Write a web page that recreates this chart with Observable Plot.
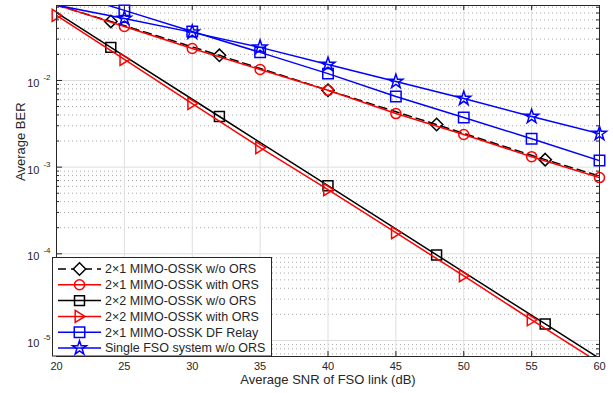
<!DOCTYPE html>
<html><head><meta charset="utf-8">
<script src="https://cdn.jsdelivr.net/npm/d3@7"></script>
<script src="https://cdn.jsdelivr.net/npm/@observablehq/plot@0.6"></script>
<style>
body{margin:0;background:#fff;}
#chart{width:613px;height:393px;}
</style>
</head><body><div id="chart"></div>
<script>
// ---- data ----
const snrA = [20, 24, 32, 40, 48, 56, 60];
const berA = [0.074, 0.048, 0.0195, 0.0077, 0.0031, 0.00122, 0.00079];
const markA = [24, 32, 40, 48, 56];

const snrB = [20, 25, 30, 35, 40, 45, 50, 55, 60];
const berB = [0.0745, 0.042, 0.0234, 0.0134, 0.0077, 0.00415, 0.00238, 0.00132, 0.000757];
const markB = [25, 30, 35, 40, 45, 50, 55, 60];

const snrC = [20, 24, 32, 40, 48, 56, 60];
const berC = [0.0605, 0.0241, 0.00384, 0.000611, 9.7e-5, 1.55e-5, 6.2e-6];
const markC = [24, 32, 40, 48, 56];

const snrD = [20, 25, 30, 35, 40, 45, 50, 55, 60];
const berD = [0.0564, 0.0175, 0.00542, 0.00168, 0.00055, 1.75e-4, 5.57e-5, 1.73e-5, 5.5e-6];
const markD = [20, 25, 30, 35, 40, 45, 50, 55];

const snrE = [20, 25, 30, 35, 40, 45, 50, 55, 60];
const berE = [0.113, 0.0644, 0.0368, 0.0211, 0.012, 0.00653, 0.00373, 0.00213, 0.00119];
const markE = [25, 30, 35, 40, 45, 50, 55, 60];

const snrF = [20, 25, 30, 35, 40, 45, 50, 55, 60];
const berF = [0.074, 0.052, 0.0359, 0.0241, 0.0153, 0.00973, 0.0062, 0.00384, 0.00244];
const markF = [25, 30, 35, 40, 45, 50, 55, 60];

const seriesNames = [
  "2\u00d71 MIMO-OSSK w/o ORS",
  "2\u00d71 MIMO-OSSK with ORS",
  "2\u00d72 MIMO-OSSK w/o ORS",
  "2\u00d72 MIMO-OSSK with ORS",
  "2\u00d71 MIMO-OSSK DF Relay",
  "Single FSO system w/o ORS"
];
const xTicks = [20, 25, 30, 35, 40, 45, 50, 55, 60];
const yDecades = [1e-5, 1e-4, 1e-3, 1e-2];
const yExponents = ["-5", "-4", "-3", "-2"];
const xLabel = "Average SNR of FSO link (dB)";
const yLabel = "Average BER";

// ---- styling ----
const yMin = 6.53e-6, yMax = 0.0733;
const triRight = {
  draw(ctx, size) {
    const r = Math.sqrt(size / Math.PI);
    ctx.moveTo(r, 0);
    ctx.lineTo(-0.8 * r, -1.1 * r);
    ctx.lineTo(-0.8 * r, 1.1 * r);
    ctx.closePath();
  }
};
const style = [
  {color: "#000", dash: "8,5", symbol: "diamond2", d3sym: d3.symbolDiamond2, r: 5.6},
  {color: "#ff0000", dash: null, symbol: "circle", d3sym: d3.symbolCircle, r: 5},
  {color: "#000", dash: null, symbol: "square", d3sym: d3.symbolSquare, r: 5.6},
  {color: "#ff0000", dash: null, symbol: triRight, d3sym: triRight, r: 5.4},
  {color: "#0000ff", dash: null, symbol: "square", d3sym: d3.symbolSquare, r: 5.9},
  {color: "#0000ff", dash: null, symbol: "star", d3sym: d3.symbolStar, r: 4.4}
];
const raw = [[snrA, berA, markA], [snrB, berB, markB], [snrC, berC, markC],
             [snrD, berD, markD], [snrE, berE, markE], [snrF, berF, markF]];
const series = raw.map(([s, b, m], i) => ({
  line: s.map((x, j) => ({x, y: b[j]})),
  marks: s.map((x, j) => ({x, y: b[j]})).filter(d => m.includes(d.x)),
  ...style[i]
}));

const minors = [];
for (let k = -6; k <= -2; k++) for (let m = 2; m <= 9; m++) {
  const v = m * Math.pow(10, k);
  if (v > yMin && v < yMax) minors.push(v);
}

const ink = "#262626";
const marks = [
  Plot.ruleY(minors, {y: d => d, stroke: "#a8a8a8", strokeDasharray: "1,3", strokeWidth: 1}),
  Plot.ruleY(yDecades, {y: d => d, stroke: "#dedede", strokeWidth: 1}),
  Plot.ruleX(xTicks, {x: d => d, stroke: "#dedede", strokeWidth: 1}),
];
series.forEach(s => {
  marks.push(Plot.line(s.line, {x: "x", y: "y", stroke: s.color, strokeWidth: 1.5,
    strokeDasharray: s.dash ?? undefined, clip: true}));
  marks.push(Plot.dot(s.marks, {x: "x", y: "y", symbol: () => s.symbol, r: s.r,
    stroke: s.color, fill: "none", strokeWidth: 1.5}));
});
marks.push(
  Plot.frame({stroke: ink, strokeWidth: 1}),
  // inward ticks
  Plot.ruleX(xTicks, {x: d => d, y1: yMin, y2: yMin, insetBottom: 5, stroke: ink}),
  Plot.ruleX(xTicks, {x: d => d, y1: yMax, y2: yMax, insetBottom: -5, stroke: ink}),
  Plot.ruleY(yDecades, {y: d => d, x1: 20, x2: 20, insetRight: -6, stroke: ink}),
  Plot.ruleY(yDecades, {y: d => d, x1: 60, x2: 60, insetLeft: -6, insetRight: 6, stroke: ink}),
  Plot.ruleY(minors, {y: d => d, x1: 20, x2: 20, insetRight: -3, stroke: ink}),
  Plot.ruleY(minors, {y: d => d, x1: 60, x2: 60, insetRight: 3, stroke: ink}),
  // tick labels
  Plot.text(xTicks, {x: d => d, y: yMin, text: d => String(d), dy: 10, fontSize: 11, fill: ink}),
  Plot.text(yDecades, {x: 20, y: d => d, text: () => "10", textAnchor: "end", dx: -17, dy: 3, fontSize: 11, fill: ink}),
  Plot.text(yDecades, {x: 20, y: d => d, text: (d, i) => yExponents[i], textAnchor: "end", dx: -6, dy: -3, fontSize: 8, fill: ink}),
  // axis titles
  Plot.text([xLabel], {frameAnchor: "bottom", text: d => d, dy: 27, fontSize: 13, fill: ink}),
  Plot.text([yLabel], {frameAnchor: "left", text: d => d, dx: -36, rotate: -90, fontSize: 13, fill: ink})
);

const chart = Plot.plot({
  width: 613, height: 393,
  marginLeft: 56, marginRight: 14, marginTop: 5, marginBottom: 37,
  style: {fontFamily: "'Liberation Sans', Arial, sans-serif", background: "#fff"},
  x: {domain: [20, 60], axis: null},
  y: {type: "log", domain: [yMin, yMax], axis: null},
  marks
});
document.getElementById("chart").appendChild(chart);

// ---- legend (inside plot, lower left) ----
const svg = d3.select(chart);
const lg = svg.append("g").attr("font-family", "'Liberation Sans', Arial, sans-serif")
  .attr("text-anchor", "start");
lg.append("rect").attr("x", 52.5).attr("y", 257.5).attr("width", 219).attr("height", 98.5)
  .attr("fill", "#fff").attr("stroke", ink).attr("stroke-width", 1);
series.forEach((s, i) => {
  const y = 269 + i * 15.8;
  lg.append("line").attr("x1", 58).attr("x2", 101).attr("y1", y).attr("y2", y)
    .attr("stroke", s.color).attr("stroke-width", 1.5)
    .attr("stroke-dasharray", s.dash ? "8,5" : null);
  lg.append("path").attr("transform", `translate(79.5,${y})`)
    .attr("d", d3.symbol(s.d3sym, Math.PI * s.r * s.r)())
    .attr("fill", s.dash ? "#fff" : "none").attr("stroke", s.color).attr("stroke-width", 1.5);
  lg.append("text").attr("x", 105).attr("y", y).attr("dy", "0.35em")
    .attr("text-anchor", "start")
    .attr("font-size", 12.5).attr("fill", ink).text(seriesNames[i]);
});
</script>
</body></html>
